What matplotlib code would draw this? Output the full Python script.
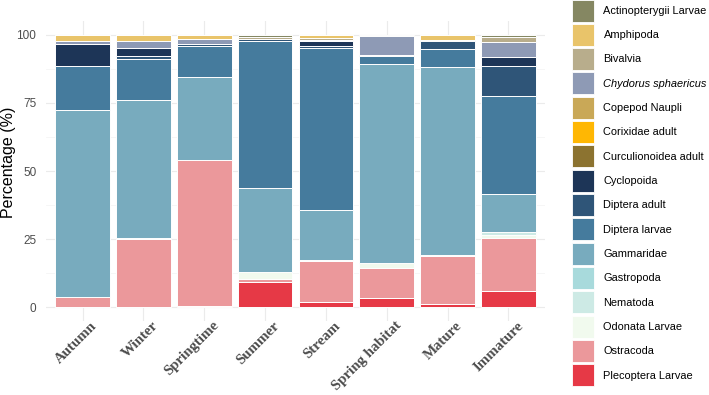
import matplotlib
matplotlib.use("Agg")
import matplotlib.pyplot as plt
import matplotlib.transforms as mtransforms
from matplotlib.patches import Patch
import numpy as np

categories = ["Autumn", "Winter", "Springtime", "Summer", "Stream",
              "Spring habitat", "Mature", "Immature"]

taxa = ["Actinopterygii Larvae", "Amphipoda", "Bivalvia", "Chydorus sphaericus",
        "Copepod Naupli", "Corixidae adult", "Curculionoidea adult", "Cyclopoida",
        "Diptera adult", "Diptera larvae", "Gammaridae", "Gastropoda", "Nematoda",
        "Odonata Larvae", "Ostracoda", "Plecoptera Larvae"]

colors = ["#858762", "#E9C46A", "#B8AD8C", "#8E9AB5", "#C9A857", "#FFB703",
          "#8C7330", "#1D3557", "#2F5578", "#457B9D", "#78ABBE", "#A8DADC",
          "#CDEAE5", "#F1FAEE", "#EB989B", "#E63946"]

# Percentages per category (Autumn, Winter, Springtime, Summer, Stream, Spring habitat, Mature, Immature)
actinopterygii = [0.0, 0.0, 0.0, 0.7, 0.0, 0.6, 0.0, 0.7]
amphipoda      = [2.2, 2.5, 1.5, 0.0, 1.3, 0.0, 2.0, 0.0]
bivalvia       = [0.0, 0.0, 0.0, 0.8, 0.5, 0.0, 0.0, 1.9]
chydorus       = [1.2, 2.5, 1.8, 0.0, 0.5, 6.7, 0.0, 5.5]
copepod        = [0.0, 0.0, 0.0, 0.0, 0.0, 0.0, 0.0, 0.0]
corixidae      = [0.0, 0.0, 0.0, 0.0, 0.0, 0.0, 0.0, 0.0]
curculionoidea = [0.0, 0.0, 0.0, 0.0, 0.0, 0.0, 0.0, 0.0]
cyclopoida     = [8.2, 3.0, 0.0, 0.0, 1.7, 0.0, 0.4, 3.4]
diptera_adult  = [0.0, 1.0, 0.9, 0.8, 1.0, 0.5, 3.0, 11.0]
diptera_larvae = [15.9, 14.8, 11.3, 53.9, 59.4, 2.8, 6.6, 36.0]
gammaridae     = [68.8, 50.7, 30.3, 31.0, 18.2, 73.3, 68.8, 14.0]
gastropoda     = [0.0, 0.0, 0.0, 0.0, 0.0, 0.0, 0.0, 0.0]
nematoda       = [0.0, 0.0, 0.0, 0.0, 0.0, 0.0, 0.0, 0.8]
odonata        = [0.0, 0.6, 0.0, 2.5, 0.3, 1.6, 0.4, 1.2]
ostracoda      = [3.7, 24.9, 53.8, 0.9, 15.1, 11.2, 17.5, 19.4]
plecoptera     = [0.0, 0.0, 0.4, 9.4, 2.0, 3.3, 1.3, 6.1]

series = [actinopterygii, amphipoda, bivalvia, chydorus, copepod, corixidae,
          curculionoidea, cyclopoida, diptera_adult, diptera_larvae, gammaridae,
          gastropoda, nematoda, odonata, ostracoda, plecoptera]

W, H = 709, 395
fig = plt.figure(figsize=(W / 100, H / 100), dpi=100)
ax = fig.add_axes([46 / W, 1 - 321 / H, (545 - 46) / W, (321 - 21) / H])

x = np.arange(1, len(categories) + 1)
bottom = np.zeros(len(categories))
# stack from bottom: last taxon first
for name, vals, col in reversed(list(zip(taxa, series, colors))):
    v = np.array(vals, dtype=float)
    ax.bar(x, v, bottom=bottom, width=0.9, color=col, edgecolor="white",
           linewidth=0.7, zorder=3)
    bottom += v

ax.set_xlim(0.4, len(categories) + 0.6)
ax.set_ylim(-5, 105)
ax.set_yticks([0, 25, 50, 75, 100])
ax.set_yticks([12.5, 37.5, 62.5, 87.5], minor=True)
ax.set_xticks(x)
ax.grid(True, which="major", color="#EBEBEB", linewidth=0.8, zorder=0)
ax.grid(True, which="minor", axis="y", color="#F3F3F3", linewidth=0.5, zorder=0)
for s in ax.spines.values():
    s.set_visible(False)
ax.tick_params(axis="both", which="both", length=0)
ax.tick_params(axis="y", labelsize=8.5, labelcolor="#4D4D4D", pad=7)
for lab in ax.get_yticklabels():
    lab.set_family("Liberation Sans")
ax.set_xticklabels(categories, rotation=45, ha="right", va="top",
                   rotation_mode="anchor", fontsize=10.7, fontweight="bold",
                   family="Liberation Serif", color="#4D4D4D")
ax.tick_params(axis="x", pad=0)
offset = mtransforms.ScaledTranslation(8 / 100, 2 / 100, fig.dpi_scale_trans)
for lab in ax.get_xticklabels():
    lab.set_transform(lab.get_transform() + offset)

ax.set_ylabel("Percentage (%)", fontsize=11.5, family="Liberation Sans",
              color="black", va="top")
ax.yaxis.set_label_coords(-1.0 / 499 * 45, 0.53)

fs = 7.9
handles = [Patch(facecolor=c, edgecolor="white", linewidth=0.6) for c in colors]
leg = fig.legend(handles, taxa, loc="upper left",
                 bbox_to_anchor=(572 / W, 1.0 + 0.5 / H),
                 frameon=False, prop={"family": "Liberation Sans", "size": fs},
                 handlelength=2.0, handleheight=2.71, labelspacing=0.21,
                 handletextpad=0.87, borderpad=0.0, borderaxespad=0)
leg.get_texts()[3].set_style("italic")

fig.savefig("out.png", dpi=100)
